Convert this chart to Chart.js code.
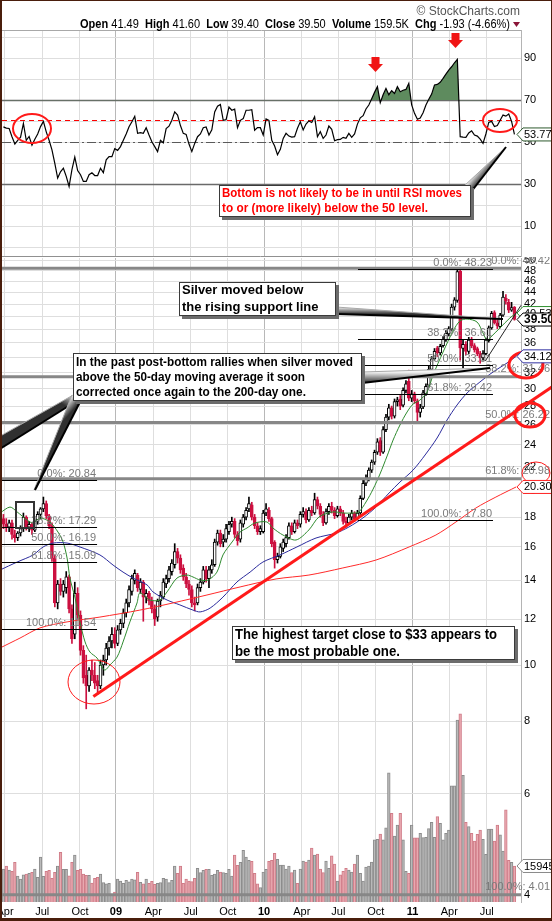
<!DOCTYPE html>
<html lang="en">
<head>
<meta charset="UTF-8" />
<title>Silver weekly with RSI</title>
<script src="https://cdn.jsdelivr.net/npm/chart.js"></script>
<style>
  body { margin: 0; background: #fff; }
  #wrap { position: relative; width: 552px; height: 921px; overflow: hidden; background: #fff; }
  #rsiChart { position: absolute; left: 0; top: 0; }
  #priceChart { position: absolute; left: 0; top: 257px; }
  #frame {
    position: absolute; left: 0; top: 0; width: 552px; height: 921px;
    box-sizing: border-box; border-style: solid; border-color: #4a1e0c;
    border-width: 1px 1px 3px 2px; pointer-events: none;
  }
</style>
</head>
<body>
<div id="wrap">
  <canvas id="rsiChart" width="552" height="257"></canvas>
  <canvas id="priceChart" width="552" height="664"></canvas>
  <div id="frame"></div>
</div>
<script>
// weekly bars, Apr 2008 - Aug 2011 (index = week number)
const opens = [
  17.9,17.5,17.3,17.6,16.8,16.6,16.9,17.2,18.0,17.3,
  17.5,17.1,17.7,18.2,18.6,19.0,18.1,17.4,15.3,12.8,
  13.8,13.4,13.6,14.2,12.5,11.3,13.3,12.2,10.6,9.6,
  9.2,9.8,9.6,9.4,9.2,10.0,10.2,10.7,11.0,11.3,
  10.9,11.5,11.8,12.3,12.8,13.4,14.0,14.3,13.5,13.9,
  13.1,13.3,12.9,12.5,12.1,12.9,13.1,13.8,14.1,14.5,
  14.9,15.7,15.3,14.7,14.2,13.8,13.5,12.8,12.8,13.6,
  13.9,14.6,14.1,14.6,14.9,16.3,16.9,16.3,16.5,17.0,
  17.5,17.7,16.8,16.5,17.5,18.0,18.6,18.9,18.0,17.4,
  17.0,17.0,18.3,18.5,17.9,16.3,15.2,15.4,15.9,16.2,
  16.6,17.4,17.0,17.6,17.5,18.2,18.4,17.8,18.5,18.3,
  19.3,18.8,18.2,17.6,18.4,18.8,18.5,18.1,18.6,18.3,
  17.7,17.6,18.0,18.3,17.9,18.3,19.4,20.6,21.0,21.7,
  22.4,23.3,24.4,23.3,25.5,26.8,27.8,26.9,28.5,28.8,
  28.1,29.8,30.9,28.9,29.4,28.6,27.3,27.9,29.4,30.4,
  32.4,33.8,35.3,34.6,35.6,36.4,37.3,38.0,41.5,42.6,
  47.9,35.2,35.8,34.8,36.5,35.6,35.2,34.5,33.9,34.5,
  36.3,38.2,40.6,39.0,38.4,40.2,43.0,42.3,41.0,41.49
];
const highs = [
  18.2,17.9,17.8,17.8,17.1,17.0,17.4,18.3,18.1,17.7,
  17.6,17.8,18.4,18.7,19.5,19.2,18.2,17.6,15.5,14.0,
  14.1,14.0,14.5,14.3,12.7,13.9,13.6,12.4,10.8,10.4,
  9.9,10.2,10.1,9.6,10.2,10.4,10.9,11.2,11.6,11.6,
  11.7,12.0,12.5,13.0,13.7,14.3,14.6,14.4,14.1,14.0,
  13.5,13.4,13.1,12.7,13.0,13.4,14.1,14.3,14.8,15.2,
  16.2,15.9,15.5,14.9,14.4,14.0,13.7,13.1,13.8,14.1,
  14.8,14.8,14.8,15.2,16.5,17.1,17.1,16.8,17.5,17.7,
  18.0,17.9,17.0,17.8,18.2,18.7,19.5,19.1,18.2,17.6,
  17.4,18.5,19.0,18.7,18.0,16.4,15.6,16.2,16.5,16.8,
  17.6,17.6,17.8,17.8,18.4,18.7,18.6,18.7,18.8,19.8,
  19.5,19.0,18.4,18.6,19.0,19.1,18.7,18.8,18.8,18.5,
  18.0,18.2,18.5,18.4,18.5,19.6,20.9,21.3,21.9,22.6,
  23.5,24.6,24.7,25.8,27.1,28.2,28.0,28.8,29.0,29.2,
  30.1,31.0,32.3,29.8,29.6,28.8,28.2,29.8,30.6,32.8,
  34.1,35.2,35.5,35.8,36.9,37.8,38.4,42.0,43.1,48.6,
  48.6,36.4,36.2,36.8,36.8,35.9,35.4,34.8,34.9,36.7,
  38.5,40.8,40.9,39.5,40.5,44.2,43.6,42.8,42.3,41.60
];
const lows = [
  17.2,17.0,17.0,16.5,16.3,16.4,16.7,17.0,17.1,17.0,
  16.8,17.0,17.5,17.9,18.4,17.9,17.2,15.1,12.6,12.5,
  13.2,13.1,13.3,12.3,10.9,11.1,12.0,10.4,9.3,8.4,
  9.0,9.4,9.1,8.9,9.1,9.6,10.0,10.4,10.7,10.7,
  10.8,11.3,11.6,12.1,12.6,13.2,13.8,13.4,13.3,11.9,
  12.8,12.7,12.3,11.7,11.9,12.6,13.0,13.6,13.9,14.3,
  14.7,15.0,14.4,14.0,13.6,13.2,12.6,12.4,12.7,13.4,
  13.8,13.9,13.6,14.4,14.8,16.1,16.0,16.0,16.3,16.8,
  17.3,16.6,16.1,16.3,17.3,17.8,18.4,17.8,17.2,16.8,
  16.8,16.9,18.1,17.7,16.0,14.7,15.0,15.3,15.7,16.0,
  16.5,16.8,16.9,17.2,17.3,18.0,17.6,17.7,18.1,18.2,
  18.6,18.0,17.4,17.5,18.2,18.3,17.9,18.0,18.1,17.5,
  17.3,17.5,17.8,17.7,17.8,18.2,19.3,20.4,20.8,21.5,
  22.2,23.1,23.0,23.2,25.3,26.5,26.6,26.7,28.0,27.6,
  27.9,29.5,28.6,28.5,28.3,26.4,26.8,27.7,29.2,30.2,
  32.2,33.6,34.1,34.3,35.4,36.2,37.0,37.8,41.0,42.3,
  33.6,32.6,34.3,34.5,35.3,34.7,34.2,33.2,33.6,34.3,
  36.1,38.0,38.8,38.1,38.2,40.0,42.0,40.6,40.8,39.40
];
const closes = [
  17.5,17.3,17.6,16.8,16.6,16.9,17.2,18.0,17.3,17.5,
  17.1,17.7,18.2,18.6,19.0,18.1,17.4,15.3,12.8,13.8,
  13.4,13.8,14.2,12.5,11.1,13.3,12.2,10.6,9.5,9.2,
  9.8,9.6,9.3,9.2,10.0,10.2,10.7,11.0,11.3,10.9,
  11.5,11.8,12.3,12.8,13.5,14.1,14.4,13.6,13.9,13.1,
  13.3,12.9,12.5,12.0,12.9,13.2,13.9,14.1,14.6,15.0,
  15.7,15.3,14.6,14.2,13.8,13.5,12.8,12.7,13.6,13.9,
  14.6,14.1,14.6,14.9,16.3,16.9,16.2,16.5,17.2,17.5,
  17.7,16.8,16.4,17.6,18.0,18.5,19.0,18.0,17.4,17.0,
  17.2,18.3,18.6,17.9,16.2,15.2,15.4,16.0,16.3,16.6,
  17.4,17.0,17.6,17.4,18.2,18.4,17.8,18.5,18.3,19.3,
  18.8,18.2,17.6,18.4,18.8,18.5,18.1,18.6,18.3,17.7,
  17.6,18.0,18.3,17.9,18.3,19.4,20.6,21.0,21.7,22.4,
  23.3,24.3,23.3,25.5,26.8,27.8,26.9,28.5,28.7,28.0,
  29.8,30.6,28.9,29.4,28.6,27.3,27.8,29.5,30.3,32.4,
  33.8,34.8,34.6,35.5,36.5,37.4,38.1,41.5,42.7,47.8,
  35.3,35.8,34.8,36.4,35.6,35.0,34.5,33.9,34.5,36.4,
  38.2,40.5,39.0,38.5,40.2,43.2,42.5,41.0,41.43,39.50
];
// volume in thousands
const volumes = [
  146,159,141,136,176,115,102,120,124,127,
  131,146,109,199,114,136,140,105,131,159,
  220,145,145,116,176,208,140,145,124,118,
  118,84,105,109,124,86,80,83,31,44,
  101,93,83,96,89,101,98,131,87,80,
  101,83,92,78,83,86,105,101,86,96,
  159,127,159,83,101,93,90,105,149,130,
  140,145,145,118,124,140,133,130,127,145,
  115,208,162,176,229,199,184,180,127,80,
  64,133,145,180,184,216,
  189,164,164,146,159,130,141,83,146,181,
  177,186,239,208,212,146,130,181,149,204,
  168,93,120,136,149,141,133,168,208,127,
  93,155,159,177,275,278,301,275,328,572,
  393,292,341,393,275,136,127,341,284,284,
  304,285,286,325,353,286,378,348,275,304,
  319,514,514,806,833,561,353,334,304,270,
  300,319,278,211,323,323,270,341,297,226,
  408,185,176,159.453
];
const rsi = [
  57.4,56.8,56.6,52.7,49.2,51,52.5,59,51,52.8,
  48.7,51.5,54,57.5,60,55,51,46.4,40,33,
  36,37.7,33.8,29,37,43,36.6,34.6,31.4,31.4,
  34.6,35.5,34.2,34.2,37.7,35.6,41.7,43.2,43.2,47,
  46.2,48,51,54,57.4,59.8,62.4,54.3,54.6,54.3,
  57,53.5,50.3,48,45.6,51,49.8,56.6,57.7,60.5,
  64.5,63,58,54.3,53.8,49.2,45.6,49.5,52.7,54,
  57,57.3,53.5,56,64.5,67.2,68,60.5,60.8,66.8,
  65.3,65.8,57,60.5,61.3,65.3,65.3,65.6,55.8,57,
  57,53.5,61.2,60.5,51,48.3,44.1,46.7,51.9,54.3,
  53,52.5,52.7,56.7,59.8,55.9,58.7,60.2,59.5,62.2,
  52.7,55.1,51.9,53.5,57.8,56.2,50.8,51.3,51.4,52.4,
  51.9,54.3,52.4,54,58.7,61.7,62.7,65.9,67.8,70.8,
  73.8,76.5,68.9,72.7,75.7,72.7,74.6,73.3,76.5,74.1,
  74.8,75.2,78.1,67.8,63.8,61,61.6,64.1,67.8,70.5,
  73,77.3,77.6,78.6,80.5,82.5,84.4,86,87.9,89.5,
  52.7,52.5,52.4,54.5,55.5,53.5,53,51.5,49.5,54,
  59.5,60,57.5,58,60.5,63,62.5,63.5,60,53.77
];

// moving averages (week index, price)
const maFastK = [-1.2,2.3,4.8,8.3,10.4,12.8,16.3,19.1,20.9,22.3,23.3,25.1,26.8,28.6,30.3,32.8,34.5,35.6,37.3,39.8,41.9,44.3,46.8,47.8,51.3,54.8,57.3,60.8,64.3,66.4,68.9,71.7,74.8,76.9,80.1,82.9,85.3,88.1,92.3,94.4,97.9,102.5,107.0,110.5,115.4,118.9,122.4,124.5,127.0,129.5,131.9,134.4,136.5,138.9,141.4,143.5,145.9,148.4,150.5,154.0,157.5,159.9,162.4,165.9,168.0,169.4,171.1,173.9,177.4,179.6];
const maFastP = [18.30,18.74,18.38,17.80,17.59,17.94,17.66,16.97,16.31,15.30,14.13,13.05,11.87,10.96,10.53,10.28,9.92,9.80,10.00,10.32,10.96,11.87,12.80,13.32,12.95,12.95,13.37,14.13,14.30,14.19,14.02,14.02,14.47,15.49,16.31,16.97,17.24,17.59,17.66,17.24,16.77,16.44,17.11,18.01,18.38,18.30,18.30,18.38,19.12,20.13,21.37,22.96,24.46,25.97,27.35,28.23,28.68,29.61,31.68,34.71,37.74,39.27,39.58,39.11,37.44,36.41,37.00,38.19,39.74,40.53];
const maMidK = [-1.2,4.8,10.4,13.9,17.4,22.3,26.8,33.8,38.4,41.9,45.4,50.3,52.4,57.3,61.8,66.4,68.9,72.4,76.9,81.8,86.4,90.9,96.9,102.8,109.5,116.5,121.0,125.9,130.5,135.1,138.9,143.5,147.7,151.9,155.4,158.9,162.4,166.9,171.5,176.4,179.6];
const maMidP = [14.59,15.06,15.49,15.99,16.24,16.24,15.99,15.49,14.88,14.47,14.13,13.75,13.37,12.95,12.70,12.44,12.35,12.54,13.10,13.91,14.47,15.06,15.49,15.99,16.57,16.90,17.31,17.94,18.74,19.82,20.70,21.71,23.05,24.66,26.49,28.12,29.49,30.81,32.06,33.23,34.12];
const maSlowK = [-1.2,5.8,12.8,22.3,33.8,47.8,59.4,71.3,82.9,95.5,107.0,118.9,130.5,142.1,151.5,158.5,165.5,172.5,179.6];
const maSlowP = [10.70,11.13,11.59,11.87,12.10,12.44,12.80,13.21,13.64,14.08,14.30,14.71,15.18,15.99,16.77,17.66,18.67,19.50,20.30];

// axis ticks
const tickPos = [0.55,13.6,26.8,39.4,52.5,65.6,78.6,91.3,104.5,117.3,130.4,143.3,156.2,169.3];
const tickLabels = ['Apr','Jul','Oct','09','Apr','Jul','Oct','10','Apr','Jul','Oct','11','Apr','Jul'];
const priceTicks = [4,6,8,10,12,14,16,18,20,22,24,26,28,30,32,34,36,38,40,42,44,46,48,50];
const rsiTicks = [0,10,20,30,40,50,60,70,80,90,100];
const rsiLabelled = [10,30,50,70,90];

// retracement levels
const fibOldLevels = [20.84,17.29,16.19,15.09,11.54];
const fibOldLabels = ['0.0%: 20.84','38.2%: 17.29','50.0%: 16.19','61.8%: 15.09','100.0%: 11.54'];
const fibOldSpan = [-0.5,32.8];
const fibNewLevels = [48.23,36.61,33.01,29.42,17.80];
const fibNewLabels = ['0.0%: 48.23','38.2%: 36.61','50.0%: 33.01','61.8%: 29.42','100.0%: 17.80'];
const fibNewSpan = [124.2,171.5];
const fibLongLevels = [48.42,31.46,26.22,20.98,4.01];
const fibLongLabels = ['0.0%: 48.42','38.2%: 31.46','50.0%: 26.22','61.8%: 20.98','100.0%: 4.01'];

// hand drawn trend lines (week index, price)
const trendK = [31.5,192.1];
const trendP = [8.82,30.2];
const supportK = [168.8,181.3];
const supportP = [33.5,41.8];

const X_MIN = -0.5, X_MAX = 181.3;
const FONT = "Arial, 'Liberation Sans', sans-serif";
const RED = '#cc1040';
Chart.defaults.font.family = FONT;
Chart.defaults.color = '#000';

const isYear = i => /^\d+$/.test(tickLabels[i] || '');
const last = arr => arr[arr.length - 1];

function xScale(showLabels) {
  return {
    type: 'linear', min: X_MIN, max: X_MAX, offset: false,
    afterBuildTicks: s => { s.ticks = tickPos.map(v => ({ value: v })); },
    afterFit: s => { s.height = showLabels ? 19 : 0; s.paddingLeft = 0; s.paddingRight = 0; },
    grid: { color: c => isYear(c.index) ? '#b8b8b8' : '#dedede', drawTicks: false, offset: false },
    border: { display: false },
    ticks: {
      display: showLabels, autoSkip: false, maxRotation: 0, padding: 3, color: '#000',
      font: c => ({ size: 11, weight: isYear(c.index) ? 'bold' : 'normal' }),
      callback: (v, i) => tickLabels[i]
    }
  };
}

function ribbon(ctx, g0, g1, k0, k1) {
  ctx.beginPath();
  ctx.moveTo(g0[0], g0[1]); ctx.lineTo(g1[0], g1[1]);
  ctx.lineTo(k1[0], k1[1]); ctx.lineTo(k0[0], k0[1]); ctx.closePath();
  const gr = ctx.createLinearGradient(g0[0], g0[1], k0[0], k0[1]);
  gr.addColorStop(0, '#f6f6f6'); gr.addColorStop(1, '#303030');
  ctx.fillStyle = gr; ctx.fill();
  ctx.strokeStyle = '#a8a8a8'; ctx.lineWidth = 1;
  ctx.beginPath(); ctx.moveTo(g0[0], g0[1]); ctx.lineTo(g1[0], g1[1]); ctx.stroke();
  ctx.strokeStyle = '#000'; ctx.lineWidth = 2;
  ctx.beginPath(); ctx.moveTo(k0[0], k0[1]); ctx.lineTo(k1[0], k1[1]); ctx.stroke();
}

function callout(ctx, x, y, w, h, lines, lineYs, widths, color, font) {
  ctx.fillStyle = '#6c6c6c';
  ctx.fillRect(x + 3, y + 3, w, h);
  ctx.fillStyle = '#fff';
  ctx.fillRect(x, y, w, h);
  ctx.strokeStyle = '#3a3a3a'; ctx.lineWidth = 1;
  ctx.strokeRect(x + 0.5, y + 0.5, w - 1, h - 1);
  ctx.fillStyle = color; ctx.font = font;
  ctx.textAlign = 'left'; ctx.textBaseline = 'middle';
  lines.forEach((t, i) => ctx.fillText(t, x + 3, lineYs[i], widths[i]));
}

function ring(ctx, cx, cy, rx, ry, lw) {
  ctx.strokeStyle = '#ff1a1a'; ctx.lineWidth = lw;
  ctx.beginPath(); ctx.ellipse(cx, cy, rx, ry, 0, 0, Math.PI * 2); ctx.stroke();
}

function tag(ctx, y, text, color, bold) {
  const x0 = 517, h = 6.5;
  ctx.beginPath();
  ctx.moveTo(x0, y); ctx.lineTo(x0 + 6, y - h); ctx.lineTo(556, y - h);
  ctx.lineTo(556, y + h); ctx.lineTo(x0 + 6, y + h); ctx.closePath();
  ctx.fillStyle = '#fff'; ctx.fill();
  ctx.strokeStyle = color; ctx.lineWidth = 1; ctx.stroke();
  ctx.fillStyle = '#000'; ctx.font = (bold ? 'bold 12px ' : '11px ') + FONT;
  ctx.textAlign = 'left'; ctx.textBaseline = 'middle';
  ctx.fillText(text, x0 + 7, y + 0.5);
}

function redArrow(ctx, cx, top) {
  ctx.fillStyle = '#f01414';
  ctx.beginPath();
  ctx.moveTo(cx - 4, top); ctx.lineTo(cx + 4, top); ctx.lineTo(cx + 4, top + 7);
  ctx.lineTo(cx + 7.5, top + 7); ctx.lineTo(cx, top + 15); ctx.lineTo(cx - 7.5, top + 7);
  ctx.lineTo(cx - 4, top + 7); ctx.closePath(); ctx.fill();
}

// ---------- RSI panel ----------
const rsiOverlay = {
  id: 'rsiOverlay',
  beforeDatasetsDraw(chart) {
    const { ctx, chartArea: a, scales: { y } } = chart;
    ctx.save();
    const hl = (v, color, w, dash) => {
      const yy = Math.round(y.getPixelForValue(v)) + 0.5;
      ctx.setLineDash(dash); ctx.strokeStyle = color; ctx.lineWidth = w;
      ctx.beginPath(); ctx.moveTo(a.left, yy); ctx.lineTo(a.right, yy); ctx.stroke();
    };
    hl(70, '#6a6a6a', 1.5, []);
    hl(30, '#6a6a6a', 1.5, []);
    hl(50, '#5a5a5a', 1, [9, 3, 2, 3]);
    hl(60.5, '#ff0000', 1.2, [5, 4]);
    ctx.restore();
  },
  afterDraw(chart) {
    const { ctx, chartArea: a, scales: { y } } = chart;
    ctx.save();
    // panel frame lines
    ctx.strokeStyle = '#a8a8a8'; ctx.lineWidth = 1;
    ctx.beginPath(); ctx.moveTo(a.left, 30.5); ctx.lineTo(a.right, 30.5); ctx.stroke();
    ctx.strokeStyle = '#909090';
    ctx.beginPath(); ctx.moveTo(0, 256.5); ctx.lineTo(a.right, 256.5); ctx.stroke();

    // header
    const n = closes.length;
    ctx.fillStyle = '#555'; ctx.font = '12px ' + FONT;
    ctx.textAlign = 'right'; ctx.textBaseline = 'alphabetic';
    ctx.fillText('\u00A9 StockCharts.com', 520, 15);
    const chg = closes[n - 1] - closes[n - 2];
    const parts = [
      ['Open', 1], [' ' + opens[n - 1].toFixed(2) + '  ', 0],
      ['High', 1], [' ' + highs[n - 1].toFixed(2) + '  ', 0],
      ['Low', 1], [' ' + lows[n - 1].toFixed(2) + '  ', 0],
      ['Close', 1], [' ' + closes[n - 1].toFixed(2) + '  ', 0],
      ['Volume', 1], [' ' + last(volumes).toFixed(1) + 'K  ', 0],
      ['Chg', 1], [' ' + chg.toFixed(2) + ' (' + (chg / closes[n - 2] * 100).toFixed(2) + '%)', 0]
    ];
    let total = 0;
    parts.forEach(p => { ctx.font = (p[1] ? 'bold ' : '') + '12px ' + FONT; total += ctx.measureText(p[0]).width; });
    ctx.save();
    ctx.translate(80, 28); ctx.scale(430 / total, 1);
    ctx.textAlign = 'left'; ctx.fillStyle = '#000';
    let cx = 0;
    parts.forEach(p => {
      ctx.font = (p[1] ? 'bold ' : '') + '12px ' + FONT;
      ctx.fillText(p[0], cx, 0); cx += ctx.measureText(p[0]).width;
    });
    ctx.restore();
    ctx.fillStyle = '#8b1538';
    ctx.beginPath(); ctx.moveTo(513, 22); ctx.lineTo(520, 22); ctx.lineTo(516.5, 27); ctx.closePath(); ctx.fill();

    // arrows and rings
    redArrow(ctx, 375.5, 57);
    redArrow(ctx, 455.5, 33);
    ring(ctx, 32, 128.5, 19, 14.5, 2);
    ring(ctx, 500, 120.5, 17, 11.5, 2);

    // callout
    ribbon(ctx, [464, 186], [506, 147], [471, 192], [506, 147]);
    callout(ctx, 219, 185, 252, 32,
      ['Bottom is not likely to be in until RSI moves', 'to or (more likely) below the 50 level.'],
      [193, 208.5], [240, 206], '#ff0000', 'bold 13px ' + FONT);

    // last value tag
    tag(ctx, y.getPixelForValue(last(rsi)), last(rsi).toFixed(2), '#2e5a2e', false);
    ctx.restore();
  }
};

new Chart(document.getElementById('rsiChart'), {
  type: 'line',
  data: {
    datasets: [{
      data: rsi.map((v, i) => ({ x: i, y: v })),
      borderColor: '#000', borderWidth: 1.2, pointRadius: 0, tension: 0,
      fill: { target: { value: 70 }, above: '#5e8b5e', below: 'rgba(0,0,0,0)' }
    }]
  },
  options: {
    responsive: false, animation: false, events: [],
    layout: { padding: { left: 2, top: 30, right: 0, bottom: 1 } },
    plugins: { legend: { display: false }, tooltip: { enabled: false } },
    scales: {
      x: xScale(false),
      y: {
        type: 'linear', position: 'right', min: -4.1, max: 103.5,
        afterBuildTicks: s => { s.ticks = rsiTicks.map(v => ({ value: v })); },
        afterFit: s => { s.width = 31; s.paddingTop = 0; s.paddingBottom = 0; },
        grid: { color: '#dedede', drawTicks: false },
        border: { color: '#b4b4b4' },
        ticks: { padding: 3, font: { size: 11 }, autoSkip: false,
          callback: v => rsiLabelled.includes(v) ? String(v) : '' }
      }
    }
  },
  plugins: [rsiOverlay]
});

// ---------- price panel ----------
const OY = 257; // canvas offset on the page

const priceOverlay = {
  id: 'priceOverlay',
  afterDatasetsDraw(chart) {
    const { ctx, chartArea: a, scales: { x, y } } = chart;
    ctx.save();
    ctx.textAlign = 'right'; ctx.textBaseline = 'bottom';
    ctx.font = '11px ' + FONT;
    // long retracement (thick grey, full width)
    fibLongLevels.forEach((v, i) => {
      const yy = y.getPixelForValue(v);
      ctx.strokeStyle = '#878787'; ctx.lineWidth = 3;
      ctx.beginPath(); ctx.moveTo(a.left, yy); ctx.lineTo(a.right, yy); ctx.stroke();
      ctx.fillStyle = '#7a7a7a';
      ctx.fillText(fibLongLabels[i], 550, yy - 2);
    });
    // shorter retracements (thin black)
    const shortSet = (levels, labels, span) => {
      const x0 = x.getPixelForValue(span[0]), x1 = x.getPixelForValue(span[1]);
      levels.forEach((v, i) => {
        const yy = Math.round(y.getPixelForValue(v)) + 0.5;
        ctx.strokeStyle = '#000'; ctx.lineWidth = 1;
        ctx.beginPath(); ctx.moveTo(x0, yy); ctx.lineTo(x1, yy); ctx.stroke();
        ctx.fillStyle = '#7a7a7a';
        ctx.fillText(labels[i], x1 - 1, yy - 1);
      });
    };
    shortSet(fibOldLevels, fibOldLabels, fibOldSpan);
    shortSet(fibNewLevels, fibNewLabels, fibNewSpan);

    // rising support (thin) and long trend line (thick red)
    ctx.strokeStyle = '#222'; ctx.lineWidth = 1;
    ctx.beginPath();
    ctx.moveTo(x.getPixelForValue(supportK[0]), y.getPixelForValue(supportP[0]));
    ctx.lineTo(x.getPixelForValue(supportK[1]), y.getPixelForValue(supportP[1]));
    ctx.stroke();
    ctx.strokeStyle = '#ff1a1a'; ctx.lineWidth = 3;
    ctx.beginPath();
    ctx.moveTo(x.getPixelForValue(trendK[0]), y.getPixelForValue(trendP[0]));
    ctx.lineTo(x.getPixelForValue(trendK[1]), y.getPixelForValue(trendP[1]));
    ctx.stroke();
    ctx.restore();
  },
  afterDraw(chart) {
    const { ctx, scales: { y, vol } } = chart;
    ctx.save();
    // rings and box
    ring(ctx, 526, 365 - OY, 17, 13, 3);
    ring(ctx, 530, 415 - OY, 15, 12, 3);
    ring(ctx, 536, 473 - OY, 14, 11, 1);
    ring(ctx, 94, 682 - OY, 26, 22, 1);
    ctx.strokeStyle = '#333'; ctx.lineWidth = 2;
    ctx.strokeRect(16, 502 - OY, 18, 26);

    // pointers
    ribbon(ctx, [336, 307 - OY], [503, 319 - OY], [336, 314 - OY], [503, 319 - OY]);
    ribbon(ctx, [362, 372 - OY], [490, 368 - OY], [362, 383 - OY], [490, 368 - OY]);
    ribbon(ctx, [75, 394 - OY], [-5, 439 - OY], [67, 407 - OY], [-5, 452 - OY]);
    ribbon(ctx, [72, 395 - OY], [34, 490 - OY], [80, 402 - OY], [35, 490 - OY]);

    // callouts
    callout(ctx, 179, 282 - OY, 157, 34,
      ['Silver moved below', 'the rising support line'],
      [290 - OY, 307 - OY], [127, 138], '#000', 'bold 13px ' + FONT);
    callout(ctx, 73, 353 - OY, 289, 48,
      ['In the past post-bottom rallies when silver moved',
       'above the 50-day moving average it soon',
       'corrected once again to the 200-day one.'],
      [362 - OY, 377 - OY, 392 - OY], [277, 229, 230], '#000', 'bold 13px ' + FONT);
    callout(ctx, 232, 626 - OY, 283, 34,
      ['The highest target close to $33 appears to', 'be the most probable one.'],
      [635 - OY, 652 - OY], [262, 165], '#000', 'bold 14px ' + FONT);

    // value tags on the axis
    tag(ctx, y.getPixelForValue(last(maFastP)), last(maFastP).toFixed(2), '#2f8f2f', false);
    tag(ctx, y.getPixelForValue(last(closes)), last(closes).toFixed(2), '#000', true);
    tag(ctx, y.getPixelForValue(last(maMidP)), last(maMidP).toFixed(2), '#3030a0', false);
    tag(ctx, y.getPixelForValue(last(maSlowP)), last(maSlowP).toFixed(2), '#ff2020', false);
    tag(ctx, vol.getPixelForValue(last(volumes)), String(Math.round(last(volumes) * 1000)), '#8a8a8a', false);
    ctx.restore();
  }
};

const up = closes.map((c, i) => c >= opens[i]);
const volDown = closes.map((c, i) => i > 0 && c < closes[i - 1]);
const maLine = (ks, ps, color) => ({
  type: 'line', yAxisID: 'y', order: 1,
  data: ks.map((k, i) => ({ x: k, y: ps[i] })),
  borderColor: color, borderWidth: 1, pointRadius: 0, tension: 0.3, fill: false
});

new Chart(document.getElementById('priceChart'), {
  type: 'bar',
  data: {
    datasets: [
      {
        type: 'bar', yAxisID: 'vol', order: 10, grouped: false,
        data: volumes.map((v, i) => ({ x: i, y: v })),
        backgroundColor: volDown.map(d => d ? '#e8a9b0' : '#bababa'),
        borderColor: volDown.map(d => d ? '#d07c88' : '#8c8c8c'),
        borderWidth: 1, borderSkipped: 'bottom', barThickness: 2.7
      },
      {
        type: 'bar', yAxisID: 'y', order: 8, grouped: false,
        data: closes.map((c, i) => ({ x: i, y: [lows[i], highs[i]] })),
        backgroundColor: up.map(u => u ? '#000' : RED),
        borderWidth: 0, barThickness: 1
      },
      {
        type: 'bar', yAxisID: 'y', order: 7, grouped: false,
        data: closes.map((c, i) => ({ x: i, y: [opens[i], c] })),
        backgroundColor: up.map(u => u ? '#fff' : RED),
        borderColor: up.map(u => u ? '#000' : RED),
        borderWidth: 1, borderSkipped: false, barThickness: 3
      },
      maLine(maSlowK, maSlowP, '#ff2a2a'),
      maLine(maMidK, maMidP, '#2a2a9c'),
      maLine(maFastK, maFastP, '#2e8a2e')
    ]
  },
  options: {
    responsive: false, animation: false, events: [],
    layout: { padding: { left: 2, top: 1, right: 0, bottom: 0 } },
    plugins: { legend: { display: false }, tooltip: { enabled: false } },
    scales: {
      x: xScale(true),
      y: {
        type: 'logarithmic', position: 'right', min: 3.897, max: 50.45,
        afterBuildTicks: s => { s.ticks = priceTicks.map(v => ({ value: v })); },
        afterFit: s => { s.width = 31; s.paddingTop = 0; s.paddingBottom = 0; },
        grid: { color: '#dedede', drawTicks: false },
        border: { color: '#b4b4b4' },
        ticks: { padding: 3, font: { size: 11 }, autoSkip: false, callback: v => String(v) }
      },
      vol: { type: 'linear', display: false, min: 0, max: 2852 }
    }
  },
  plugins: [priceOverlay]
});
</script>
</body>
</html>
